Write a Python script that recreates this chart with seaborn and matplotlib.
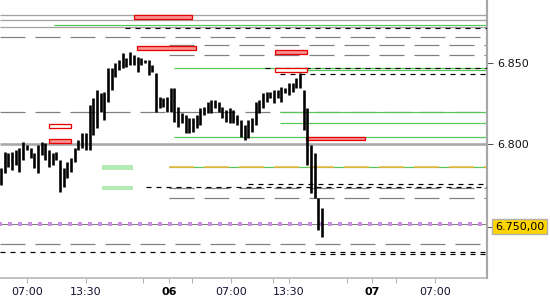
import numpy as np
import pandas as pd
import matplotlib
matplotlib.use("Agg")
import matplotlib.pyplot as plt
import matplotlib.transforms as mtransforms
from matplotlib.patches import Rectangle
import seaborn as sns

# ---------------- data ----------------
bar_highs = [6785.2, 6795.1, 6794.4, 6795.1, 6796.3, 6797.5, 6801.2, 6799.4, 6797.5, 6794.4,
             6799.4, 6801.2, 6800.6, 6796.3, 6794.4, 6795.1, 6790.1, 6785.2, 6788.9, 6791.4,
             6797.5, 6802.5, 6806.8, 6806.8, 6824.1, 6828.4, 6833.3, 6831.5, 6832.1, 6846.9,
             6846.9, 6850.0, 6851.9, 6856.2, 6853.1, 6856.8, 6854.9, 6853.7, 6853.1, 6851.9,
             6851.9, 6848.8, 6843.8, 6829.0, 6828.4, 6829.0, 6834.6, 6834.6, 6822.8, 6819.1,
             6817.9, 6816.0, 6816.0, 6817.9, 6822.2, 6822.8, 6825.9, 6827.2, 6827.2, 6825.9,
             6822.8, 6821.0, 6822.2, 6821.0, 6817.9, 6814.8, 6811.7, 6814.8, 6816.0, 6825.9,
             6827.2, 6831.5, 6832.1, 6832.1, 6833.3, 6833.3, 6835.2, 6834.6, 6837.7, 6837.7,
             6840.7, 6843.8, 6833.3, 6822.2, 6799.4, 6794.4, 6766.7, 6760.5]
bar_lows = [6774.7, 6782.1, 6785.8, 6784.0, 6787.0, 6782.7, 6790.1, 6796.3, 6791.4, 6785.2,
            6782.1, 6793.2, 6790.1, 6785.8, 6787.0, 6790.1, 6770.4, 6773.5, 6779.0, 6782.7,
            6788.9, 6796.3, 6797.5, 6796.3, 6796.3, 6805.6, 6809.9, 6819.8, 6814.8, 6825.9,
            6833.3, 6841.4, 6845.7, 6846.9, 6847.5, 6848.8, 6848.8, 6844.4, 6848.8, 6850.0,
            6842.6, 6844.4, 6819.8, 6822.2, 6822.8, 6819.8, 6819.8, 6813.6, 6810.5, 6813.0,
            6806.8, 6806.8, 6807.4, 6809.9, 6811.7, 6817.9, 6819.1, 6819.1, 6822.2, 6819.8,
            6816.0, 6813.6, 6813.0, 6813.0, 6811.7, 6804.3, 6802.5, 6803.7, 6807.4, 6811.7,
            6819.1, 6822.2, 6825.9, 6828.4, 6825.3, 6828.4, 6825.9, 6831.5, 6830.2, 6832.1,
            6834.6, 6834.6, 6808.6, 6787.0, 6769.8, 6766.7, 6746.9, 6742.6]

# levels: price, first bar where the level starts (None = whole chart)
gray_solid_prices = [6879.6, 6876.5, 6872.2]
gray_dashed_prices = [6866.0, 6861.1, 6854.9, 6819.8, 6772.8, 6766.7, 6738.3]
gray_dashed_starts = [None, 45.5, 45.5, None, 45.5, 45.5, None]
black_dashed_prices = [6871.6, 6846.9, 6843.2, 6775.3, 6773.5, 6733.3, 6732.1]
black_dashed_starts = [33.6, 71.5, 75.6, 66.9, 39.3, None, 83.7]
green_prices = [6873.5, 6846.9, 6845.7, 6819.8, 6813.0, 6804.3, 6785.8]
green_starts = [14.4, 46.9, 82.9, 75.6, 75.6, 46.9, 45.5]
orange_prices = [6785.8]
orange_starts = [45.5]
purple_prices = [6750.6]
main_level = 6800

# zones: bar from, bar to, price low, price high
red_zones = [(36.0, 51.8, 6877.0, 6879.6), (36.9, 52.8, 6858.0, 6860.5),
             (74.3, 82.9, 6855.6, 6858.0), (82.7, 98.6, 6802.5, 6804.3),
             (13.0, 19.0, 6800.6, 6803.0)]
red_outline_zones = [(74.3, 82.9, 6844.4, 6846.9), (13.0, 19.0, 6810.0, 6812.3)]
green_zones = [(27.4, 35.8, 6784.0, 6787.0), (27.4, 35.8, 6771.6, 6774.0)]

y_tick_values = [6850, 6800]
y_tick_labels = ["6.850", "6.800"]
last_price_label = "6.750,00"
last_price = 6749

x_tick_pos = [7.05, 23.0, 38.5, 45.5, 51.8, 62.3, 73.7, 78.0, 93.8, 100.5, 107.0, 117.6]
x_tick_labels = ["07:00", "13:30", "", "06", "", "07:00", "", "13:30", "", "07", "", "07:00"]
bold_labels = ["06", "07"]

# ---------------- style ----------------
sns.set_theme(style="white")
plt.rcParams["font.family"] = ["DejaVu Sans"]
plt.rcParams["lines.scale_dashes"] = False

PX = 0.72  # one pixel in points at dpi 100
XL = (-0.27, 131.7)
YL = (6717.3, 6888.9)

fig = plt.figure(figsize=(5.5, 3.0), dpi=100)
ax = fig.add_axes([0.0, 22 / 300, 487 / 550, 278 / 300])
ax.set_xlim(*XL)
ax.set_ylim(*YL)
ax.set_facecolor("white")

def start(s):
    return XL[0] if s is None else s

GRAY = "#a3a3a3"
DGRAY = "#7f7f7f"
GREEN = "#55c755"

# gray solid
ax.hlines(gray_solid_prices, XL[0], XL[1], colors=GRAY, lw=1.3 * PX, zorder=1)
# main 6800 level
ax.hlines([main_level], XL[0], XL[1], colors="#a8a8a8", lw=2.6 * PX, zorder=1)
# gray dashed
for p, s in zip(gray_dashed_prices, gray_dashed_starts):
    ax.hlines(p, start(s), XL[1], colors=DGRAY, lw=1.2 * PX,
              linestyles=[(0, (25 * PX, 10 * PX))], zorder=1)
# green
for p, s in zip(green_prices, green_starts):
    ax.hlines(p, start(s), XL[1], colors=GREEN, lw=1.2 * PX, zorder=2)
# orange dashed over green
for p, s in zip(orange_prices, orange_starts):
    ax.hlines(p, start(s), XL[1], colors="#f2b640", lw=1.6 * PX,
              linestyles=[(0, (25 * PX, 10 * PX))], zorder=2)
# black dashed
for p, s in zip(black_dashed_prices, black_dashed_starts):
    ax.hlines(p, start(s), XL[1], colors="black", lw=1.2 * PX,
              linestyles=[(0, (5 * PX, 5 * PX))], zorder=3)
# purple dotted with gray line below
ax.hlines(purple_prices, XL[0], XL[1], colors=DGRAY, lw=1.0 * PX, zorder=1)
for p in purple_prices:
    ax.hlines(p, XL[0], XL[1], colors="#c98fe3", lw=4.0 * PX,
              linestyles=[(2 * PX, (4 * PX, 6 * PX))], zorder=2)

# zones
for x0, x1, p0, p1 in red_zones:
    ax.add_patch(Rectangle((x0, p0), x1 - x0, p1 - p0, facecolor="#f79494",
                           edgecolor="#e80000", lw=1.3 * PX, zorder=4))
for x0, x1, p0, p1 in red_outline_zones:
    ax.add_patch(Rectangle((x0, p0), x1 - x0, p1 - p0, facecolor="white",
                           edgecolor="#e80000", lw=1.3 * PX, zorder=4))
for x0, x1, p0, p1 in green_zones:
    ax.add_patch(Rectangle((x0, p0), x1 - x0, p1 - p0, facecolor="#b4ebb4",
                           edgecolor="none", zorder=4))

# price bars
bars = pd.DataFrame({"bar": np.arange(len(bar_highs)), "high": bar_highs, "low": bar_lows})
ax.vlines(bars["bar"], bars["low"], bars["high"], colors="black", lw=2.6 * PX, zorder=5)

# axes decorations
sns.despine(ax=ax, left=True, top=True, right=False, bottom=False)
ax.spines["right"].set_color("#a8a8a8")
ax.spines["right"].set_linewidth(2.2 * PX)
ax.spines["bottom"].set_color("#b0b0b0")
ax.spines["bottom"].set_linewidth(1.5 * PX)
ax.grid(False)

ax.yaxis.tick_right()
ax.set_yticks(y_tick_values + [last_price])
ax.set_yticklabels(y_tick_labels + [""])
ax.tick_params(axis="y", which="both", right=True, left=False, length=4 * PX * 1.4,
               width=1.0 * PX, color="#555555", labelsize=8, pad=3, labelcolor="#111111")

ax.set_xticks(x_tick_pos)
ax.set_xticklabels(x_tick_labels)
ax.tick_params(axis="x", bottom=True, length=5 * PX, width=1.0 * PX, color="#b0b0b0",
               labelsize=8, pad=3, labelcolor="#111133")
for lab in ax.get_xticklabels():
    if lab.get_text() in bold_labels:
        lab.set_fontweight("bold")
        lab.set_color("black")

trans = mtransforms.blended_transform_factory(ax.transAxes, ax.transData)
ax.text(1.016, last_price, last_price_label, transform=trans, fontsize=8, color="black",
        va="center", ha="left", clip_on=False,
        bbox=dict(boxstyle="square,pad=0.25", facecolor="#ffd500", edgecolor="#b0b0b0", lw=1.0))

fig.savefig("out.png", dpi=100, facecolor="white")
